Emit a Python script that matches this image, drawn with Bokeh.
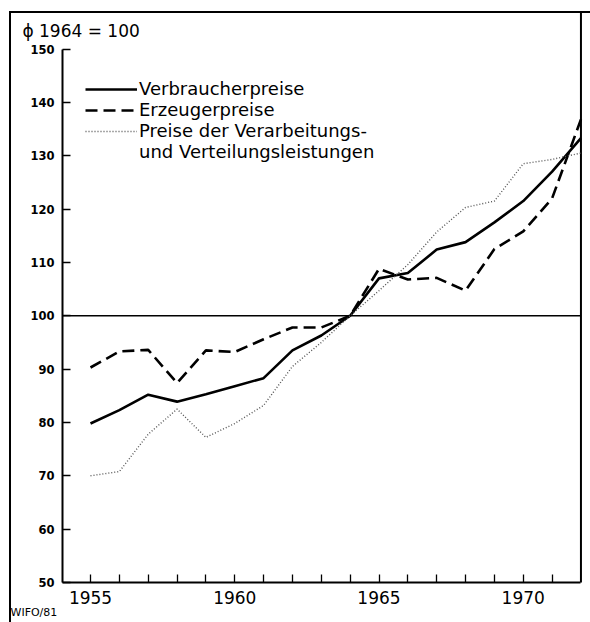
from bokeh.plotting import figure
from bokeh.models import Legend, LegendItem, FixedTicker, Range1d, Label
from bokeh.embed import file_html
from bokeh.resources import INLINE

years = list(range(1955, 1973))
verbraucherpreise = [79.8, 82.3, 85.2, 83.9, 85.3, 86.8, 88.3, 93.5, 96.3, 100.0,
                     107.0, 108.0, 112.4, 113.8, 117.5, 121.5, 127.0, 133.3]
erzeugerpreise = [90.3, 93.3, 93.6, 87.4, 93.5, 93.2, 95.6, 97.8, 97.8, 100.0,
                  108.8, 106.8, 107.1, 104.7, 112.5, 115.8, 122.0, 136.8]
verarbeitung = [70.0, 70.8, 77.8, 82.5, 77.2, 79.8, 83.2, 90.5, 95.0, 100.0,
                104.7, 109.6, 115.7, 120.3, 121.5, 128.5, 129.3, 130.5]

x_tick_years = years[:-1]
x_tick_labels = {y: (str(y) if y % 5 == 0 else "") for y in x_tick_years}
y_ticks = list(range(50, 151, 10))
base_index = 100
y_axis_at = 1954.03
x_first, x_last = y_axis_at, years[-1]
y_low, y_high = 50, 150

FONT = "DejaVu Sans"

p = figure(width=581, height=611,
           x_range=Range1d(1952.192, 1972.331), y_range=Range1d(42.50, 157.03),
           output_backend="svg", toolbar_location=None,
           min_border_left=0, min_border_right=0, min_border_top=0, min_border_bottom=0)
p.margin = (11, 0, 0, 9)
p.xgrid.visible = False
p.ygrid.visible = False
p.outline_line_color = None
p.background_fill_color = None
p.border_fill_color = None
p.styles = {"box-shadow": "inset 2px 2px 0 0 black"}

# x axis (drawn at y = 50 inside the frame)
xa = p.xaxis[0]
xa.fixed_location = y_low
xa.bounds = (x_first, x_last)
xa.ticker = FixedTicker(ticks=x_tick_years)
xa.major_label_overrides = {y: s for y, s in x_tick_labels.items()}
xa.major_tick_in = 8
xa.major_tick_out = 0
xa.minor_tick_line_color = None
xa.axis_line_width = 2
xa.major_tick_line_width = 1.3
xa.major_label_standoff = 9
xa.major_label_text_font = FONT
xa.major_label_text_font_size = "17px"
xa.major_label_text_color = "black"

# y axis
ya = p.yaxis[0]
ya.fixed_location = y_axis_at
ya.ticker = FixedTicker(ticks=y_ticks)
ya.bounds = (y_low, y_high)
ya.major_tick_in = 8
ya.major_tick_out = 0
ya.minor_tick_line_color = None
ya.axis_line_width = 2
ya.major_tick_line_width = 1.3
ya.major_label_standoff = 8
ya.major_label_text_font = FONT
ya.major_label_text_font_size = "11.5px"
ya.major_label_text_font_style = "bold"
ya.major_label_text_color = "black"

# reference line at 100 and right border of the chart box
p.segment(x0=[x_first], y0=[base_index], x1=[x_last], y1=[base_index],
          line_color="black", line_width=1.3)
p.segment(x0=[x_last], y0=[y_low], x1=[x_last], y1=[157.03],
          line_color="black", line_width=2)

r1 = p.line(years, verbraucherpreise, line_color="black", line_width=2.6)
r2 = p.line(years, erzeugerpreise, line_color="black", line_width=2.6, line_dash="12 6")
r3 = p.line(years, verarbeitung, line_color="#555555", line_width=1.4, line_dash="1 2")
r4 = p.line([], [], line_alpha=0)

legend = Legend(items=[
    LegendItem(label="Verbraucherpreise", renderers=[r1]),
    LegendItem(label="Erzeugerpreise", renderers=[r2]),
    LegendItem(label="Preise der Verarbeitungs-", renderers=[r3]),
    LegendItem(label="und Verteilungsleistungen", renderers=[r4]),
], location=(76, 460))
legend.label_text_font = FONT
legend.label_text_font_size = "18px"
legend.label_text_color = "black"
legend.padding = 0
legend.margin = 0
legend.border_line_color = None
legend.background_fill_alpha = 0
legend.glyph_width = 52
legend.glyph_height = 20
legend.label_height = 20
legend.label_standoff = 2
legend.spacing = 0
p.add_layout(legend)

p.add_layout(Label(x=1952.64, y=153.45, text="\u03d5 1964 = 100", text_font=FONT,
                   text_font_size="17px", text_color="black", text_baseline="alphabetic"))
p.add_layout(Label(x=1952.227, y=44.45, text="WIFO/81", text_font=FONT,
                   text_font_size="11px", text_color="black", text_baseline="alphabetic"))

open("out.html", "w").write(file_html(p, INLINE))
